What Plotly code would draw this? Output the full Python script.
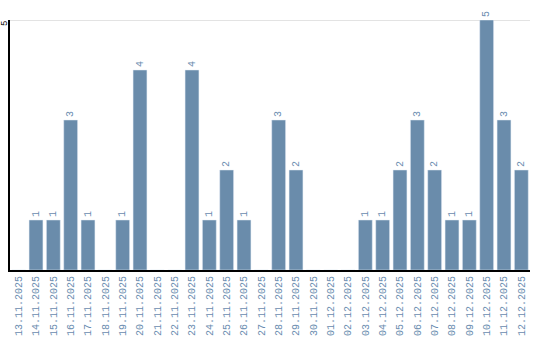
import plotly.graph_objects as go

dates = ["13.11.2025","14.11.2025","15.11.2025","16.11.2025","17.11.2025","18.11.2025",
         "19.11.2025","20.11.2025","21.11.2025","22.11.2025","23.11.2025","24.11.2025",
         "25.11.2025","26.11.2025","27.11.2025","28.11.2025","29.11.2025","30.11.2025",
         "01.12.2025","02.12.2025","03.12.2025","04.12.2025","05.12.2025","06.12.2025",
         "07.12.2025","08.12.2025","09.12.2025","10.12.2025","11.12.2025","12.12.2025"]
counts = [0,1,1,3,1,0,1,4,0,0,4,1,2,1,0,3,2,0,0,0,1,1,2,3,2,1,1,5,3,2]
labels = [str(c) if c > 0 else "" for c in counts]
y_max = 5

bar_color = "#6a8cab"
text_color = "#6a8caf"
font = "Liberation Mono"

fig = go.Figure(go.Bar(
    x=dates, y=counts, text=labels, textposition="outside", textangle=-90,
    textfont=dict(family=font, size=10, color=text_color),
    marker=dict(color=bar_color), cliponaxis=False, width=0.8,
))
fig.update_layout(
    width=540, height=340, margin=dict(l=10, r=10, t=20, b=70),
    paper_bgcolor="white", plot_bgcolor="white", showlegend=False,
    font=dict(family=font, size=10, color=text_color),
    shapes=[dict(type="line", xref="paper", x0=0, x1=1, yref="y", y0=y_max, y1=y_max,
                 line=dict(color="#c8c8c8", width=1), layer="below")],
    annotations=[dict(text=str(y_max), xref="paper", x=0, yref="y", y=y_max,
                      xanchor="center", yanchor="middle", xshift=-5, yshift=-4, textangle=-90,
                      showarrow=False, font=dict(family=font, size=9, color="black"))],
)
fig.update_xaxes(tickangle=-90, showline=True, linecolor="black", linewidth=2,
                 showgrid=False, ticks="", automargin=False,
                 tickfont=dict(family=font, size=10, color=text_color))
fig.update_yaxes(range=[0, y_max], showticklabels=False, showgrid=False, showline=True,
                 linecolor="black", linewidth=2, zeroline=False, ticks="", automargin=False)
fig.write_html("out.html")
